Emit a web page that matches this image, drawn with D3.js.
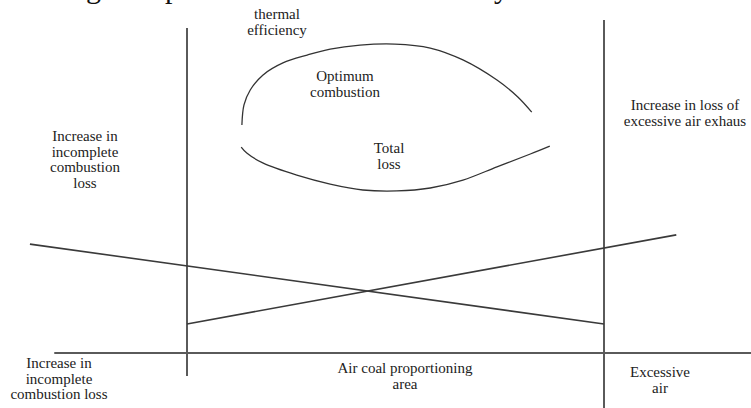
<!DOCTYPE html>
<html>
<head>
<meta charset="utf-8">
<title>Air coal proportioning and thermal efficiency</title>
<script src="https://cdnjs.cloudflare.com/ajax/libs/d3/7.8.5/d3.min.js"></script>
<style>
    body { margin: 0; background: #fff; }
    #chart-area { width: 751px; height: 408px; overflow: hidden; }
    .label { font-family: "Liberation Serif", "DejaVu Serif", serif; font-size: 15px; fill: #222; }
    .title-frag { font-family: "Liberation Serif", serif; font-size: 30px; fill: #111; }
</style>
</head>
<body>
<div id="chart-area"></div>
<script>

// ---- data (chart units: x = air/coal ratio axis 0..10, y = loss / efficiency 0..10) ----
let boundaryX = [2, 8];                       // left & right edge of the proportioning area
let leftBoundaryY = [-0.7, 9.85];
let rightBoundaryY = [-1.67, 10.09];
let baseAxisX = [0.09, 10.2];

// incomplete combustion loss (falls as air grows)
let incompleteLossX = [-0.26, 8];
let incompleteLossY = [3.30, 0.88];

// exhaust loss (rises as air grows)
let exhaustLossX = [2, 9.04];
let exhaustLossY = [0.88, 3.58];

// thermal efficiency curve
let efficiencyX = [2.79, 2.82, 2.91, 3.09, 3.38, 3.73, 4.06, 4.49, 4.99, 5.50, 5.97, 6.46, 6.76, 6.96];
let efficiencyY = [6.91, 7.52, 7.97, 8.42, 8.79, 9.03, 9.21, 9.33, 9.36, 9.24, 8.88, 8.27, 7.76, 7.30];

// total loss curve
let totalLossX = [2.78, 2.86, 3.09, 3.58, 4.06, 4.53, 5.02, 5.50, 5.97, 6.46, 6.94, 7.22];
let totalLossY = [6.24, 6.06, 5.76, 5.39, 5.12, 4.94, 4.91, 5.00, 5.24, 5.64, 6.03, 6.27];

// text labels
let labelTexts = [
    ["thermal", "efficiency"],
    ["Optimum", "combustion"],
    ["Total", "loss"],
    ["Increase in", "incomplete", "combustion", "loss"],
    ["Increase in loss of", "excessive air exhaus"],
    ["Increase in", "incomplete", "combustion loss"],
    ["Air coal proportioning", "area"],
    ["Excessive", "air"]
];

// cut-off title at the very top (only descenders survive)
let titleGlyphs = ["g", "p", "y"];


class ProportionVis {
    constructor(parentElement) {
        this.parentElement = parentElement;
        this.initVis();
    }

    initVis() {
        let vis = this;

        vis.width = 751;
        vis.height = 408;

        vis.svg = d3.select("#" + vis.parentElement).append("svg")
            .attr("width", vis.width)
            .attr("height", vis.height);

        vis.x = d3.scaleLinear().domain([0, 10]).range([48, 743]);
        vis.y = d3.scaleLinear().domain([0, 10]).range([353, 23]);

        vis.line = d3.line()
            .x(d => vis.x(d[0]))
            .y(d => vis.y(d[1]));

        vis.curve = d3.line()
            .x(d => vis.x(d[0]))
            .y(d => vis.y(d[1]))
            .curve(d3.curveCatmullRom.alpha(0.5));

        vis.wrangleData();
    }

    wrangleData() {
        let vis = this;

        vis.frame = [
            {pts: d3.zip([boundaryX[0], boundaryX[0]], leftBoundaryY)},
            {pts: d3.zip([boundaryX[1], boundaryX[1]], rightBoundaryY)},
            {pts: d3.zip(baseAxisX, [0, 0])}
        ];
        vis.straight = [
            d3.zip(incompleteLossX, incompleteLossY),
            d3.zip(exhaustLossX, exhaustLossY)
        ];
        vis.curves = [
            d3.zip(efficiencyX, efficiencyY),
            d3.zip(totalLossX, totalLossY)
        ];

        vis.updateVis();
    }

    updateVis() {
        let vis = this;

        // axes / area boundaries
        vis.svg.selectAll(".frame")
            .data(vis.frame)
            .enter().append("path")
            .attr("class", "frame")
            .attr("d", d => vis.line(d.pts))
            .attr("fill", "none")
            .attr("stroke", "#5a5a5a")
            .attr("stroke-width", 2);

        // the two loss lines
        vis.svg.selectAll(".loss-line")
            .data(vis.straight)
            .enter().append("path")
            .attr("class", "loss-line")
            .attr("d", vis.line)
            .attr("fill", "none")
            .attr("stroke", "#3a3a3a")
            .attr("stroke-width", 1.6);

        // efficiency + total loss curves
        vis.svg.selectAll(".curve")
            .data(vis.curves)
            .enter().append("path")
            .attr("class", "curve")
            .attr("d", vis.curve)
            .attr("fill", "none")
            .attr("stroke", "#333")
            .attr("stroke-width", 1.3);

        // label anchors (px), line height 15.5
        let anchors = [
            {x: 277, y: 19},
            {x: 345, y: 81},
            {x: 389, y: 153},
            {x: 85, y: 141},
            {x: 685, y: 110},
            {x: 59, y: 368},
            {x: 405, y: 373},
            {x: 660, y: 377}
        ];

        let labels = vis.svg.selectAll(".label")
            .data(labelTexts)
            .enter().append("text")
            .attr("class", "label")
            .attr("text-anchor", "middle")
            .attr("x", (d, i) => anchors[i].x)
            .attr("y", (d, i) => anchors[i].y);

        labels.selectAll("tspan")
            .data((d, i) => d.map(t => ({t: t, a: anchors[i]})))
            .enter().append("tspan")
            .attr("x", d => d.a.x)
            .attr("dy", (d, j) => j === 0 ? 0 : 15.5)
            .text(d => d.t);

        // descenders of the clipped heading
        let glyphX = [86, 165, 494];
        vis.svg.selectAll(".title-frag")
            .data(titleGlyphs)
            .enter().append("text")
            .attr("class", "title-frag")
            .attr("x", (d, i) => glyphX[i])
            .attr("y", -2)
            .text(d => d);
    }
}

let proportionVis = new ProportionVis("chart-area");
</script>
</body>
</html>
